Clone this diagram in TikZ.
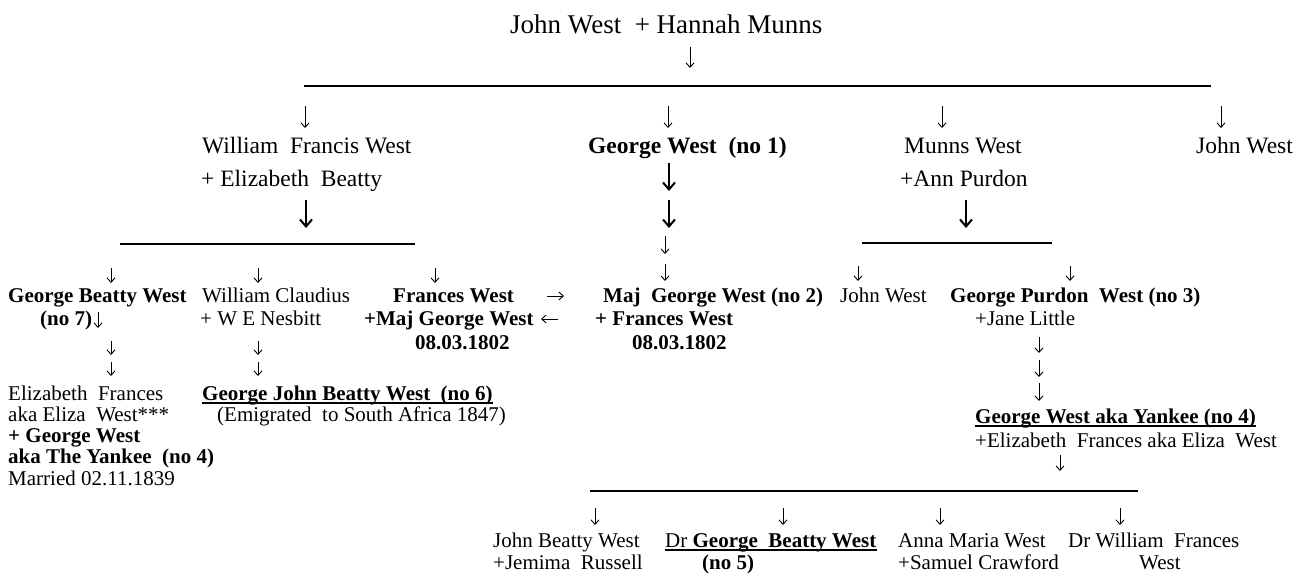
\documentclass[tikz,border=0pt]{standalone}
\usepackage{fontspec}
\setmainfont{Liberation Serif}
\usetikzlibrary{arrows.meta}

\begin{document}
\begin{tikzpicture}[
x=1pt, y=-1pt,
>={Straight Barb[length=4.5pt,width=8pt]},
every node/.style={inner sep=0pt, anchor=base west},
ttl/.style={font=\fontsize{27}{30}\selectfont},
gen/.style={font=\fontsize{23.5}{26}\selectfont},
kid/.style={font=\fontsize{21}{23}\selectfont},
dn/.style={->, line width=0.9pt},
dnbig/.style={-{Straight Barb[length=7pt,width=12pt]}, line width=2pt},
bar/.style={line width=1.3pt},
uline/.style={line width=1.5pt},
]
\useasboundingbox (0,0) rectangle (1301,573);
\fill[white] (0,0) rectangle (1301,573);

% Top couple
\node[ttl] (title) at (510,33) {John West~ + Hannah Munns};
\coordinate (ta) at (690,47); \coordinate (tb) at (690,68);
\draw[dn] (ta) -- (tb);
\coordinate (r1a) at (304,86); \coordinate (r1b) at (1211,86);
\draw[line width=2.4pt] (r1a) -- (r1b);

% Children
\node[gen] (wfw) at (202,153) {William~ Francis West};
\node[gen] (wfwb) at (201,186) {+ Elizabeth~ Beatty};
\node[gen] (gw1) at (588,153) {\textbf{George West~ (no 1)}};
\node[gen] (mw) at (904,153) {Munns West};
\node[gen] (mwb) at (900,186) {+Ann Purdon};
\node[gen] (jw) at (1196,153) {John West};

% Arrows
\coordinate (a1) at (305,106); \coordinate (b1) at (305,128);
\coordinate (a2) at (668,106); \coordinate (b2) at (668,128);
\coordinate (a3) at (942,106); \coordinate (b3) at (942,128);
\coordinate (a4) at (1221,106); \coordinate (b4) at (1221,128);
\draw[dn] (a1) -- (b1);
\draw[dn] (a2) -- (b2);
\draw[dn] (a3) -- (b3);
\draw[dn] (a4) -- (b4);
\coordinate (c1) at (669,163); \coordinate (e1) at (669,191);
\coordinate (c2) at (306,200); \coordinate (e2) at (306,228);
\coordinate (c3) at (669,200); \coordinate (e3) at (669,228);
\coordinate (c4) at (966,200); \coordinate (e4) at (966,228);
\draw[dnbig] (c1) -- (e1);
\draw[dnbig] (c2) -- (e2);
\draw[dnbig] (c3) -- (e3);
\draw[dnbig] (c4) -- (e4);
\coordinate (g1) at (665,236); \coordinate (h1) at (665,254);
\coordinate (g2) at (665,264); \coordinate (h2) at (665,281);
\draw[dn] (g1) -- (h1);
\draw[dn] (g2) -- (h2);

% Grandchildren bars
\coordinate (r2a) at (120,244); \coordinate (r2b) at (415,244);
\coordinate (r3a) at (862,243); \coordinate (r3b) at (1052,243);
\draw[bar] (r2a) -- (r2b);
\draw[bar] (r3a) -- (r3b);
\coordinate (k1) at (111,268); \coordinate (l1) at (111,283);
\coordinate (k2) at (258,268); \coordinate (l2) at (258,283);
\coordinate (k3) at (435,268); \coordinate (l3) at (435,283);
\coordinate (k4) at (858,266); \coordinate (l4) at (858,281);
\coordinate (k5) at (1070,266); \coordinate (l5) at (1070,281);
\draw[dn] (k1) -- (l1);
\draw[dn] (k2) -- (l2);
\draw[dn] (k3) -- (l3);
\draw[dn] (k4) -- (l4);
\draw[dn] (k5) -- (l5);

% Grandchildren
\node[kid] (gbw) at (8,302) {\textbf{George Beatty West}};
\node[kid] (gbw7) at (40,325) {\textbf{(no 7)}};
\node[kid] (wc) at (202,302) {William Claudius};
\node[kid] (wcb) at (200,325) {+ W E Nesbitt};
\node[kid] (fw) at (393,302) {\textbf{Frances West}};
\node[kid] (fwb) at (364,325) {\textbf{+Maj George West}};
\node[kid] (fwd) at (415,349) {\textbf{08.03.1802}};
\node[kid] (mgw) at (603,302) {\textbf{Maj~ George West (no 2)}};
\node[kid] (mgwb) at (595,325) {\textbf{+ Frances West}};
\node[kid] (mgwd) at (632,349) {\textbf{08.03.1802}};
\node[kid] (jw2) at (840,302) {John West};
\node[kid] (gpw) at (950,302) {\textbf{George Purdon~ West (no 3)}};
\node[kid] (gpwb) at (975,325) {+Jane Little};

\coordinate (n7a) at (98,312); \coordinate (n7b) at (98,328);
\draw[dn] (n7a) -- (n7b);
\coordinate (ra) at (547,296); \coordinate (rb) at (564,296);
\coordinate (la) at (558,319); \coordinate (lb) at (541,319);
\draw[dn] (ra) -- (rb);
\draw[dn] (la) -- (lb);
\coordinate (p1) at (111,341); \coordinate (q1) at (111,355);
\coordinate (p2) at (111,362); \coordinate (q2) at (111,376);
\coordinate (p3) at (258,341); \coordinate (q3) at (258,355);
\coordinate (p4) at (258,362); \coordinate (q4) at (258,376);
\coordinate (p5) at (1039,337); \coordinate (q5) at (1039,353);
\coordinate (p6) at (1039,360); \coordinate (q6) at (1039,377);
\coordinate (p7) at (1039,383); \coordinate (q7) at (1039,401);
\draw[dn] (p1) -- (q1);
\draw[dn] (p2) -- (q2);
\draw[dn] (p3) -- (q3);
\draw[dn] (p4) -- (q4);
\draw[dn] (p5) -- (q5);
\draw[dn] (p6) -- (q6);
\draw[dn] (p7) -- (q7);

% Great-grandchildren
\node[kid] (ef1) at (8,400) {Elizabeth~ Frances};
\node[kid] (ef2) at (8,421) {aka Eliza~ West***};
\node[kid] (ef3) at (8,442) {\textbf{+ George West}};
\node[kid] (ef4) at (8,463) {\textbf{aka The Yankee~ (no 4)}};
\node[kid] (ef5) at (8,485) {Married 02.11.1839};
\node[kid] (gjb) at (202,400) {\textbf{George John Beatty West~ (no 6)}};
\node[kid] (gjbe) at (217,421) {(Emigrated~ to South Africa 1847)};
\draw[uline] ([yshift=-3pt]gjb.base west) -- ([yshift=-3pt]gjb.base east);
\node[kid] (gwy) at (975,423) {\textbf{George West aka Yankee (no 4)}};
\draw[uline] ([yshift=-3pt]gwy.base west) -- ([yshift=-3pt]gwy.base east);
\node[kid] (gwyb) at (975,447) {+Elizabeth~ Frances aka Eliza~ West};
\coordinate (s1) at (1060,455); \coordinate (t1) at (1060,471);
\draw[dn] (s1) -- (t1);

% Last generation
\coordinate (r4a) at (590,491); \coordinate (r4b) at (1138,491);
\draw[bar] (r4a) -- (r4b);
\coordinate (v1) at (595,508); \coordinate (w1) at (595,525);
\coordinate (v2) at (783,508); \coordinate (w2) at (783,525);
\coordinate (v3) at (940,508); \coordinate (w3) at (940,525);
\coordinate (v4) at (1120,508); \coordinate (w4) at (1120,525);
\draw[dn] (v1) -- (w1);
\draw[dn] (v2) -- (w2);
\draw[dn] (v3) -- (w3);
\draw[dn] (v4) -- (w4);
\node[kid] (jbw) at (493,547) {John Beatty West};
\node[kid] (jbwb) at (493,569) {+Jemima~ Russell};
\node[kid] (dgb) at (665,547) {Dr \textbf{George~ Beatty West}};
\draw[uline] ([yshift=-3pt]dgb.base west) -- ([yshift=-3pt]dgb.base east);
\node[kid] (dgb5) at (702,569) {\textbf{(no 5)}};
\node[kid] (amw) at (898,547) {Anna Maria West};
\node[kid] (amwb) at (898,569) {+Samuel Crawford};
\node[kid] (dwf) at (1068,547) {Dr William~ Frances};
\node[kid] (dwfb) at (1139,569) {West};

\end{tikzpicture}
\end{document}
